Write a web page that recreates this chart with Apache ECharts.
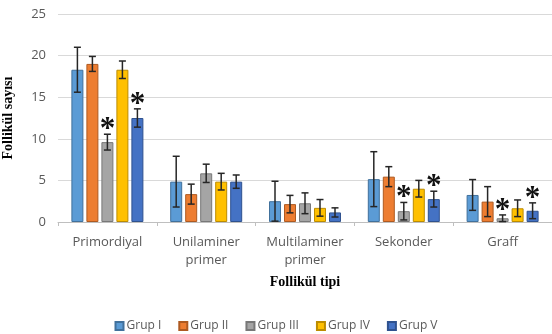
<!DOCTYPE html>
<html>
<head>
<meta charset="utf-8">
<script src="https://cdn.jsdelivr.net/npm/echarts@6/dist/echarts.min.js"></script>
<style>
html,body{margin:0;padding:0;background:#fff;}
#chart{width:552px;height:334px;}
</style>
</head>
<body>
<div id="chart"></div>
<script>
// ---- data ----
const categories = ['Primordiyal', 'Unilaminer\nprimer', 'Multilaminer\nprimer', 'Sekonder', 'Graff'];
const groupNames = ['Grup I', 'Grup II', 'Grup III', 'Grup IV', 'Grup V'];
const grup1 = [18.3, 4.85, 2.5, 5.15, 3.25];
const grup2 = [19.0, 3.35, 2.15, 5.45, 2.45];
const grup3 = [9.6, 5.85, 2.25, 1.3, 0.45];
const grup4 = [18.3, 4.85, 1.7, 4.0, 1.65];
const grup5 = [12.5, 4.85, 1.15, 2.75, 1.35];
const err1 = [2.7, 3.05, 2.4, 3.3, 1.85];
const err2 = [0.9, 1.2, 1.05, 1.2, 1.8];
const err3 = [0.95, 1.1, 1.25, 1.05, 0.4];
const err4 = [1.05, 1.0, 1.0, 1.0, 1.0];
const err5 = [1.1, 0.8, 0.55, 0.95, 0.95];
// significance markers (1 = asterisk)
const star3 = [1, 0, 0, 1, 1];
const star5 = [1, 0, 0, 1, 1];
const yTicks = [0, 5, 10, 15, 20, 25];

const values = [grup1, grup2, grup3, grup4, grup5];
const errors = [err1, err2, err3, err4, err5];
const stars = [[0,0,0,0,0], [0,0,0,0,0], star3, [0,0,0,0,0], star5];

const colors = ['#5B9BD5', '#ED7D31', '#A5A5A5', '#FFC000', '#4472C4'];
const borders = ['#41719C', '#AE5A21', '#787878', '#BC8C00', '#2F528F'];

const BAR_W = 12, BAR_GAP = 0.25;

const errData = [];
values.forEach((arr, g) => arr.forEach((v, c) => errData.push([c, g, v, errors[g][c], stars[g][c]])));

const series = groupNames.map((name, g) => ({
  name: name,
  type: 'bar',
  data: values[g],
  barWidth: BAR_W,
  barGap: (BAR_GAP * 100) + '%',
  itemStyle: { color: colors[g], borderColor: borders[g], borderWidth: 1 },
  z: 2
}));

series.push({
  type: 'custom',
  name: 'err',
  data: errData,
  z: 5,
  silent: true,
  encode: { x: 0, y: 2 },
  renderItem: function (params, api) {
    const c = api.value(0), g = api.value(1), v = api.value(2), e = api.value(3), s = api.value(4);
    const pitch = BAR_W * (1 + BAR_GAP);
    const base = api.coord([c, v]);
    const x = base[0] + (g - 2) * pitch;
    const yTop = api.coord([c, v + e])[1];
    const yLow = api.coord([c, Math.max(0, v - e)])[1];
    const cap = 3.5;
    const st = { stroke: '#262626', lineWidth: 1.5 };
    const children = [
      { type: 'line', shape: { x1: x, y1: yTop, x2: x, y2: yLow }, style: st },
      { type: 'line', shape: { x1: x - cap, y1: yTop, x2: x + cap, y2: yTop }, style: st },
      { type: 'line', shape: { x1: x - cap, y1: yLow, x2: x + cap, y2: yLow }, style: st }
    ];
    if (s) {
      children.push({
        type: 'text',
        style: {
          text: '*', x: x, y: yTop - 4,
          textAlign: 'center', textVerticalAlign: 'middle',
          fontFamily: 'Liberation Serif', fontSize: 31, fontWeight: 'bold', fill: '#111'
        }
      });
    }
    return { type: 'group', children: children };
  }
});

const chart = echarts.init(document.getElementById('chart'), null, { renderer: 'canvas' });
chart.setOption({
  animation: false,
  color: colors,
  grid: { left: 58, right: 0, top: 14, bottom: 112, outerBoundsMode: 'none', containLabel: false },
  legend: {
    data: groupNames,
    bottom: -3,
    left: 'center',
    itemWidth: 8,
    itemHeight: 8,
    itemGap: 17,
    icon: 'rect',
    textStyle: { color: '#595959', fontSize: 12, fontFamily: 'Open Sans', padding: [0, 0, 0, -2] }
  },
  xAxis: {
    type: 'category',
    data: categories,
    name: 'Follikül tipi',
    nameLocation: 'middle',
    nameGap: 53,
    nameTextStyle: { fontFamily: 'Liberation Serif', fontWeight: 'bold', fontSize: 14, color: '#000' },
    axisLine: { lineStyle: { color: '#BFBFBF', width: 1 } },
    axisTick: { show: true, length: 4, lineStyle: { color: '#BFBFBF' } },
    axisLabel: { color: '#595959', fontSize: 13, fontFamily: 'Open Sans', margin: 11, lineHeight: 18, interval: 0 }
  },
  yAxis: {
    type: 'value',
    min: yTicks[0],
    max: yTicks[yTicks.length - 1],
    interval: yTicks[1] - yTicks[0],
    name: 'Follikül sayısı',
    nameLocation: 'middle',
    nameGap: 43,
    nameTextStyle: { fontFamily: 'Liberation Serif', fontWeight: 'bold', fontSize: 14, color: '#000' },
    axisLine: { show: false },
    axisTick: { show: false },
    axisLabel: { color: '#595959', fontSize: 13, fontFamily: 'Open Sans', margin: 12 },
    splitLine: { lineStyle: { color: '#D9D9D9', width: 1 } }
  },
  series: series
});
</script>
</body>
</html>
